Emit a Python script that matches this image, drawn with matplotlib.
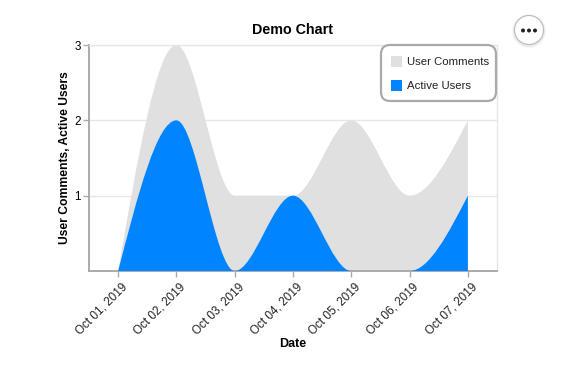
import numpy as np
import matplotlib
matplotlib.use("Agg")
import matplotlib.pyplot as plt
from matplotlib.path import Path
from matplotlib.patches import PathPatch, FancyBboxPatch, Rectangle, Circle
from matplotlib.transforms import offset_copy

plt.rcParams['font.family'] = ['Liberation Sans', 'DejaVu Sans']

dates = ["Oct 01, 2019", "Oct 02, 2019", "Oct 03, 2019", "Oct 04, 2019",
         "Oct 05, 2019", "Oct 06, 2019", "Oct 07, 2019"]
active_users = [0, 2, 0, 1, 0, 0, 1]
user_comments = [0, 1, 1, 0, 2, 1, 1]
y_ticks = [1, 2, 3]
series_names = ["User Comments", "Active Users"]
grey = "#e0e0e0"
blue = "#0084ff"
axis_grey = "#aaaaaa"
W, H = 584, 369


# monotone cubic tangents, same rule as a monotoneX curve
def tangents(y):
    y = np.asarray(y, dtype=float)
    s = np.diff(y)
    t = np.zeros(len(y))
    for i in range(1, len(y) - 1):
        p = (s[i - 1] + s[i]) / 2
        t[i] = (np.sign(s[i - 1]) + np.sign(s[i])) * min(abs(s[i - 1]), abs(s[i]), 0.5 * abs(p))
    t[0] = (3 * s[0] - t[1]) / 2
    t[-1] = (3 * s[-1] - t[-2]) / 2
    return t


# closed area under y down to the baseline, as bezier segments
def area_path(y):
    t = tangents(y)
    verts = [(0, 0), (0, y[0])]
    codes = [Path.MOVETO, Path.LINETO]
    for i in range(len(y) - 1):
        verts += [(i + 1 / 3, y[i] + t[i] / 3), (i + 2 / 3, y[i + 1] - t[i + 1] / 3), (i + 1, y[i + 1])]
        codes += [Path.CURVE4] * 3
    verts += [(len(y) - 1, 0), (0, 0)]
    codes += [Path.LINETO, Path.CLOSEPOLY]
    return Path(verts, codes)


fig = plt.figure(figsize=(W / 100, H / 100), dpi=100)
ax = fig.add_axes([89 / W, 1 - 271 / H, 408 / W, 226 / H])

total = np.array(active_users) + np.array(user_comments)
ax.add_patch(PathPatch(area_path(total), fc=grey, ec="none", zorder=2))
ax.add_patch(PathPatch(area_path(active_users), fc=blue, ec="none", zorder=3))

ax.set_xlim(-0.5, 6.5)
ax.set_ylim(0, 3)
ax.set_xticks(range(len(dates)))
ax.set_xticklabels(dates, rotation=45, ha="right", va="top", rotation_mode="anchor",
                   fontsize=8.5, color="#222222")
ax.set_yticks(y_ticks)
ax.tick_params(axis="y", length=4, width=1, color=axis_grey, labelsize=8.4, pad=2)
ax.tick_params(axis="x", length=4, width=1, color=axis_grey, pad=3)
ax.grid(axis="y", color="#e6e6e6", lw=1, zorder=1)
ax.set_axisbelow(True)

# nudge the date labels right so their ends sit under the ticks
for lab in ax.get_xticklabels():
    lab.set_transform(offset_copy(lab.get_transform(), fig=fig, x=3, y=0, units="dots"))

for side in ["top", "right"]:
    ax.spines[side].set_color("#e6e6e6")
    ax.spines[side].set_linewidth(1)
for side in ["left", "bottom"]:
    ax.spines[side].set_color(axis_grey)
    ax.spines[side].set_linewidth(1.4)

ax.set_title("Demo Chart", fontsize=10.3, fontweight="bold", pad=8)
ax.set_xlabel("Date", fontsize=9, fontweight="bold", labelpad=1)
ax.set_ylabel("User Comments, Active Users", fontsize=8.7, fontweight="bold", labelpad=2)

# overlay in pixel coordinates for the legend box and the menu button
over = fig.add_axes([0, 0, 1, 1], facecolor="none")
over.set_xlim(0, W)
over.set_ylim(H, 0)
over.axis("off")

over.add_patch(FancyBboxPatch((381, 45), 115, 56, boxstyle="round,pad=0,rounding_size=9",
                              fc="white", ec=axis_grey, lw=1.6))
for name, color, yc in zip(series_names, [grey, blue], [61, 85]):
    over.add_patch(Rectangle((391, yc - 5.5), 11, 11, fc=color, ec="none"))
    over.text(407, yc + 0.8, name, fontsize=8.2, color="#222222", va="center", ha="left")

for r, a in [(17, 0.03), (16, 0.05)]:
    over.add_patch(Circle((529, 31), r, fc="black", ec="none", alpha=a))
over.add_patch(Circle((529, 30), 14.5, fc="white", ec="#bbbbbb", lw=0.8))
for dx in [-6, 0, 6]:
    over.add_patch(Circle((529 + dx, 30.5), 2, fc="#222222", ec="none"))

fig.savefig("out.png", dpi=100)
